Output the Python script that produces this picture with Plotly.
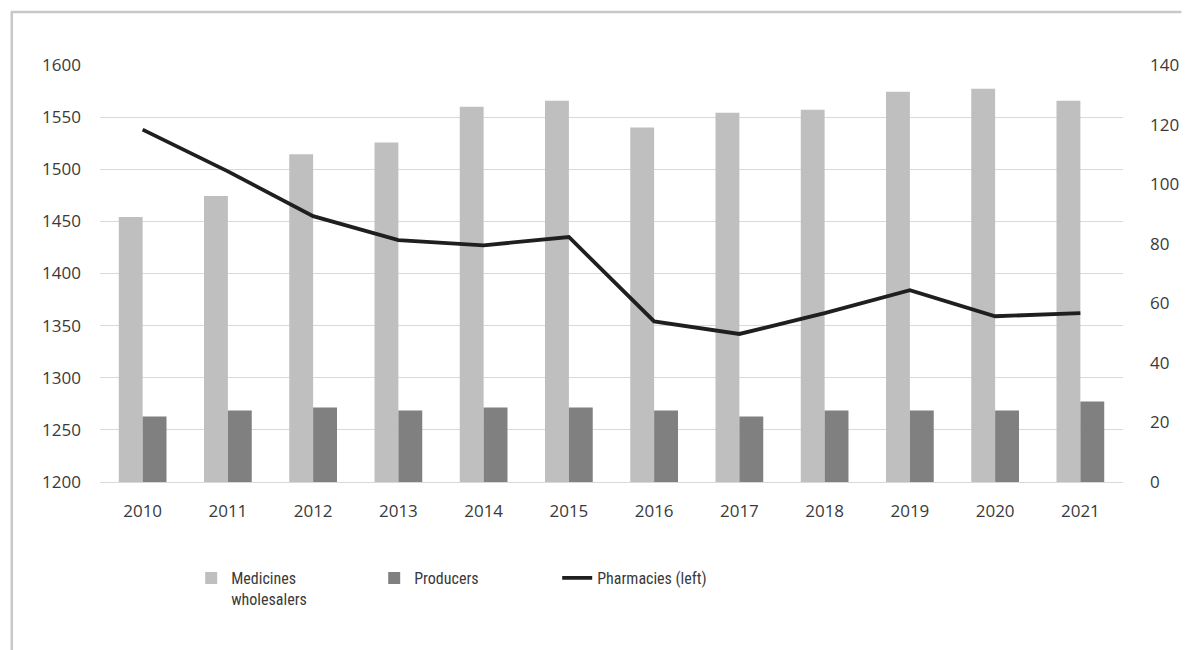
import plotly.graph_objects as go

years = ["2010", "2011", "2012", "2013", "2014", "2015",
         "2016", "2017", "2018", "2019", "2020", "2021"]
wholesalers = [89, 96, 110, 114, 126, 128, 119, 124, 125, 131, 132, 128]
producers = [22, 24, 25, 24, 25, 25, 24, 22, 24, 24, 24, 27]
pharmacies = [1538, 1498, 1455, 1432, 1427, 1435, 1354, 1342, 1362, 1384, 1359, 1362]

left_ticks = list(range(1200, 1601, 50))
right_ticks = list(range(0, 141, 20))

TXT = "#3a3a3a"
GRID = "#d9d9d9"
FONT = "Open Sans, Lato, sans-serif"
LEG_FONT = "Liberation Sans Narrow, Roboto Condensed, Open Sans, sans-serif"

fig = go.Figure()

# Bars use the right-hand scale (primary y axis placed on the right)
fig.add_trace(go.Bar(
    x=years, y=wholesalers, name="Medicines<br>wholesalers",
    marker=dict(color="#bfbfbf", line=dict(width=0)), yaxis="y"))
fig.add_trace(go.Bar(
    x=years, y=producers, name="Producers",
    marker=dict(color="#808080", line=dict(width=0)), yaxis="y"))

# Pharmacies on the left-hand scale, drawn over the bars
fig.add_trace(go.Scatter(
    x=years, y=pharmacies, name="Pharmacies (left)", mode="lines",
    line=dict(color="#1f1f1f", width=3.8), yaxis="y2"))

# Plot-area geometry in pixels (used to place the outer frame)
W, H = 1191, 650
L, R, T, B = 100, 59, 65, 168
pw, ph = W - L - R, H - T - B

def px_x(p):
    return (p - L) / pw

def px_y(p):
    return (H - B - p) / ph

fig.update_layout(
    width=W, height=H,
    margin=dict(l=L, r=R, t=T, b=B),
    paper_bgcolor="white", plot_bgcolor="white",
    barmode="group", bargap=0.44, bargroupgap=0,
    font=dict(family=FONT, size=17, color=TXT),
    showlegend=True,
    legend=dict(
        orientation="h", x=px_x(192), y=px_y(561), xanchor="left", yanchor="top",
        font=dict(family=LEG_FONT, size=16, color=TXT),
        valign="top", traceorder="normal",
        entrywidth=138, entrywidthmode="pixels",
        itemwidth=30, bgcolor="rgba(0,0,0,0)",
    ),
    xaxis=dict(
        type="category", showgrid=False, showline=True, linecolor=GRID, linewidth=1,
        ticks="", ticklabelstandoff=14, tickfont=dict(size=17, color=TXT),
        zeroline=False,
    ),
    yaxis=dict(
        side="right", range=[0, 140], tickvals=right_ticks,
        showgrid=False, zeroline=False, showline=False, ticks="",
        ticklabelstandoff=26, tickfont=dict(size=17, color=TXT),
    ),
    yaxis2=dict(
        overlaying="y", side="left", range=[1200, 1600], tickvals=left_ticks,
        showgrid=True, gridcolor=GRID, gridwidth=1.2, zeroline=False,
        showline=False, ticks="", ticklabelstandoff=18,
        tickfont=dict(size=17, color=TXT),
    ),
    shapes=[
        dict(type="line", xref="paper", yref="paper",
             x0=px_x(11), x1=px_x(11), y0=px_y(12), y1=px_y(H),
             line=dict(color="#c8c8c8", width=2.5)),
        dict(type="line", xref="paper", yref="paper",
             x0=px_x(10), x1=px_x(W), y0=px_y(12), y1=px_y(12),
             line=dict(color="#c8c8c8", width=2.5)),
    ],
)

fig.write_html("out.html")
